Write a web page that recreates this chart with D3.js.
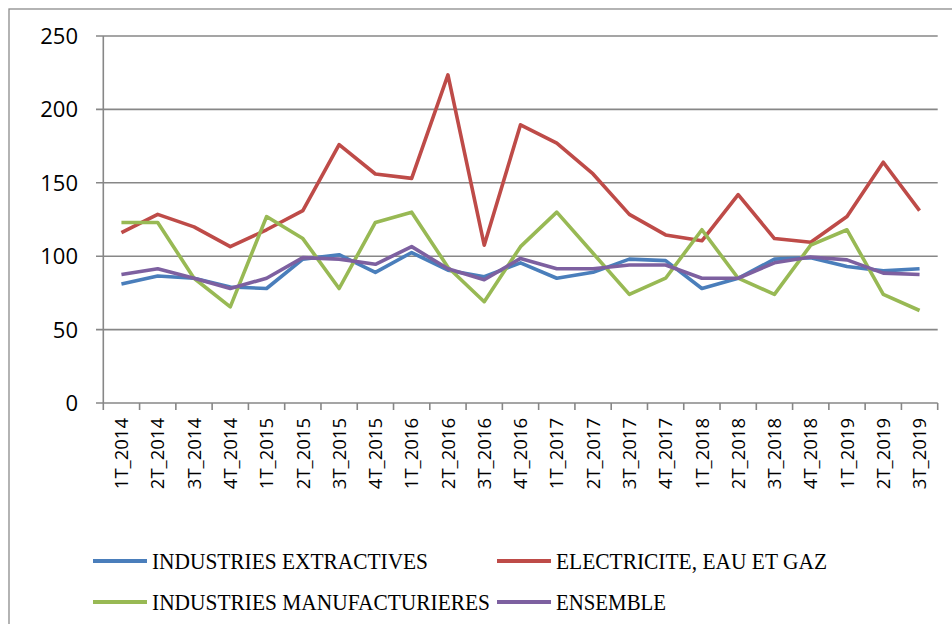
<!DOCTYPE html>
<html>
<head>
<meta charset="utf-8">
<script src="https://cdn.jsdelivr.net/npm/d3@7"></script>
<style>
  body { margin: 0; background: #fff; }
  svg { display: block; }
</style>
</head>
<body>
<div id="chart"></div>
<script>
// quarters on the x axis
var quarters = ["1T_2014", "2T_2014", "3T_2014", "4T_2014",
                "1T_2015", "2T_2015", "3T_2015", "4T_2015",
                "1T_2016", "2T_2016", "3T_2016", "4T_2016",
                "1T_2017", "2T_2017", "3T_2017", "4T_2017",
                "1T_2018", "2T_2018", "3T_2018", "4T_2018",
                "1T_2019", "2T_2019", "3T_2019"];

// values
var extractives = [81, 86.5, 85, 79, 78, 98, 101, 89, 102.5, 90.5, 86, 95.5,
                   85, 89, 98, 97, 78, 85, 98, 99, 93, 90, 91.5];
var electricite = [116, 128.5, 120, 106.5, 118, 131, 176, 156, 153, 223.5, 107.5, 189.5,
                   177, 156, 128.5, 114.5, 110.5, 142, 112, 109.5, 127, 164, 131];
var manufacturieres = [123, 123, 85, 65.5, 127, 112, 78, 123, 130, 92.5, 69, 106.5,
                       130, 102, 74, 85, 118, 85, 74, 107.5, 118, 74, 63];
var ensemble = [87.5, 91.5, 85, 78, 85, 99, 98, 94.5, 106.5, 91.5, 84, 98.5,
                91.5, 91.5, 94, 94, 85, 85, 95.5, 99.5, 97.5, 88.5, 87.5];

var yTicks = [0, 50, 100, 150, 200, 250];

var series = [
  {name: "INDUSTRIES EXTRACTIVES", values: extractives, col: "#4a7ebb"},
  {name: "ELECTRICITE, EAU ET GAZ", values: electricite, col: "#be4b48"},
  {name: "INDUSTRIES MANUFACTURIERES", values: manufacturieres, col: "#98b954"},
  {name: "ENSEMBLE", values: ensemble, col: "#7d60a0"}
];

var W = 952, H = 624;
var svg = d3.select("#chart").append("svg")
    .attr("width", W)
    .attr("height", H);

// chart frame (runs off the bottom and right of the picture)
svg.append("rect")
    .attr("x", 9).attr("y", 9)
    .attr("width", 960).attr("height", 640)
    .attr("fill", "none")
    .attr("stroke", "#8c8c8c")
    .attr("stroke-width", 1.3);

var x = d3.scaleBand()
    .domain(quarters)
    .range([103.3, 937.7]);

var y = d3.scaleLinear()
    .domain([0, 250])
    .range([403, 36]);

// horizontal grid lines, poking out left of the axis as ticks
svg.append("g")
    .selectAll("line")
    .data(yTicks)
    .enter()
    .append("line")
    .attr("x1", 96)
    .attr("x2", 937.7)
    .attr("y1", function(d) { return y(d); })
    .attr("y2", function(d) { return y(d); })
    .attr("stroke", "#878787")
    .attr("stroke-width", 1.6);

// y axis line
svg.append("line")
    .attr("x1", 103.3).attr("x2", 103.3)
    .attr("y1", y(250)).attr("y2", y(0))
    .attr("stroke", "#878787")
    .attr("stroke-width", 1.6);

// y labels
svg.append("g")
    .selectAll("text")
    .data(yTicks)
    .enter()
    .append("text")
    .attr("x", 78)
    .attr("y", function(d) { return y(d); })
    .attr("dy", "0.36em")
    .attr("text-anchor", "end")
    .attr("font-family", "'Open Sans', sans-serif")
    .attr("font-size", "22px")
    .attr("fill", "#000")
    .text(function(d) { return d; });

// x tick marks at category boundaries
var bounds = quarters.map(function(q) { return x(q); });
bounds.push(x.range()[1]);
svg.append("g")
    .selectAll("line")
    .data(bounds)
    .enter()
    .append("line")
    .attr("x1", function(d) { return d; })
    .attr("x2", function(d) { return d; })
    .attr("y1", y(0))
    .attr("y2", y(0) + 7)
    .attr("stroke", "#878787")
    .attr("stroke-width", 1.6);

// x labels, rotated
svg.append("g")
    .selectAll("text")
    .data(quarters)
    .enter()
    .append("text")
    .attr("transform", function(d) {
        var cx = x(d) + x.bandwidth() / 2;
        return "translate(" + cx + ",418) rotate(-90)";
    })
    .attr("dy", "0.36em")
    .attr("text-anchor", "end")
    .attr("font-family", "'Open Sans', sans-serif")
    .attr("font-size", "18.5px")
    .attr("fill", "#000")
    .text(function(d) { return d; });

// the four lines
var line = d3.line()
    .x(function(d, i) { return x(quarters[i]) + x.bandwidth() / 2; })
    .y(function(d) { return y(d); });

svg.append("g")
    .selectAll("path")
    .data(series)
    .enter()
    .append("path")
    .attr("d", function(s) { return line(s.values); })
    .attr("fill", "none")
    .attr("stroke", function(s) { return s.col; })
    .attr("stroke-width", 3.6)
    .attr("stroke-linejoin", "round");

// legend, two by two
var legendPos = [
  {lx: 93, ly: 561, tw: 276},
  {lx: 497, ly: 561, tw: 271},
  {lx: 93, ly: 602, tw: 338},
  {lx: 497, ly: 602, tw: 110}
];

var legend = svg.append("g")
    .selectAll("g")
    .data(series)
    .enter()
    .append("g")
    .attr("transform", function(s, i) {
        return "translate(" + legendPos[i].lx + "," + legendPos[i].ly + ")";
    });

legend.append("line")
    .attr("x1", 0).attr("x2", 54)
    .attr("y1", 0).attr("y2", 0)
    .attr("stroke", function(s) { return s.col; })
    .attr("stroke-width", 4);

legend.append("text")
    .attr("x", 59)
    .attr("y", 0)
    .attr("dy", "0.34em")
    .attr("font-family", "'Liberation Serif', serif")
    .attr("font-size", "24px")
    .attr("fill", "#000")
    .attr("textLength", function(s, i) { return legendPos[i].tw; })
    .attr("lengthAdjust", "spacingAndGlyphs")
    .text(function(s) { return s.name; });
</script>
</body>
</html>
